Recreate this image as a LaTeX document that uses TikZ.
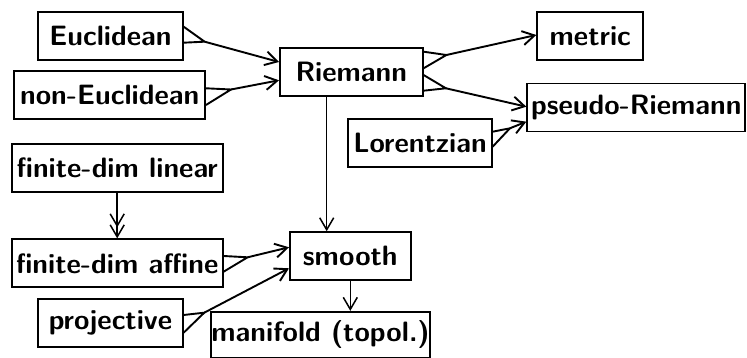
\documentclass[tikz,border=0pt]{standalone}
\usetikzlibrary{arrows.meta,calc}
\tikzset{
  box/.style={draw, line width=1.9pt, inner sep=0pt, minimum height=48pt,
    font=\fontsize{28}{33}\selectfont\sffamily\bfseries},
  edge/.style={line width=1.9pt, line join=miter},
  vedge/.style={line width=1.5pt, line join=miter},
  tip/.style={-{Straight Barb[length=12pt,width=14pt]}},
}
\newcommand\forkedge[7]{%
  \draw[edge] ($(#1.east)+(0,#4)$) -- ($(#1.east)+(#2,#3)$) -- ($(#1.east)+(0,#5)$);
  \draw[edge,tip] ($(#1.east)+(#2,#3)$) -- ($(#6.west)+(0,#7)$);}
\begin{document}
\begin{tikzpicture}[x=1pt,y=1pt]
\useasboundingbox (0,0) rectangle (747,358);
\node[box, minimum width=144.4pt] (euc) at (110.5,321.7) {Euclidean};
\node[box, minimum width=190.7pt] (neuc) at (109.7,263) {non-Euclidean};
\node[box, minimum width=142.7pt] (riem) at (351.3,286.4) {Riemann};
\node[box, minimum width=106pt] (metric) at (590.3,322.2) {metric};
\node[box, minimum width=218pt] (pseudo) at (636.3,250.5) {pseudo-Riemann};
\node[box, minimum width=143.4pt] (lor) at (420,214.8) {Lorentzian};
\node[box, minimum width=211pt] (lin) at (117.2,189.8) {finite-dim linear};
\node[box, minimum width=211pt] (aff) at (117.2,94.7) {finite-dim affine};
\node[box, minimum width=144.4pt] (proj) at (110.5,34.7) {projective};
\node[box, minimum width=120.7pt] (smooth) at (350.3,101.8) {smooth};
\node[box, minimum width=171pt, minimum height=46pt] (mani) at (320.5,23.2) {manifold (topol.)};

\forkedge{euc}{21}{-5.4}{9.6}{-6.4}{riem}{9.6}
\forkedge{neuc}{25}{5.5}{6.7}{-10}{riem}{-8.7}
\forkedge{riem}{22.8}{16.6}{19.9}{3.3}{metric}{0.8}
\forkedge{riem}{22.3}{-16.7}{-3.4}{-19.1}{pseudo}{0.8}
\forkedge{lor}{17.3}{14.9}{11.5}{-3.5}{pseudo}{-14.2}
\forkedge{aff}{24}{6}{7.3}{-8.4}{smooth}{8.9}
\forkedge{proj}{20.6}{10.6}{8.3}{-9.4}{smooth}{-12.1}

\draw[vedge,tip] ($(riem.south)+(-24.6,0)$) -- ($(smooth.north)+(-23.6,0)$);
\draw[vedge,tip] (lin) -- (aff);
\draw[vedge,tip,shorten >=11pt] (lin) -- (aff);
\draw[vedge,tip] (smooth.south) -- (smooth.south |- mani.north);
\end{tikzpicture}
\end{document}
